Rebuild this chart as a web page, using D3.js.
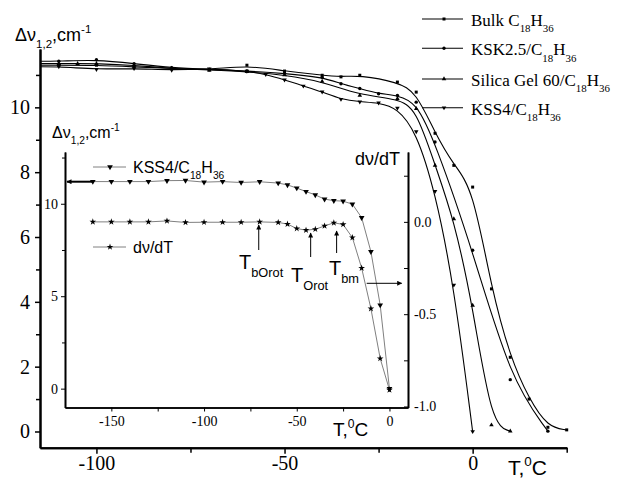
<!DOCTYPE html>
<html>
<head>
<meta charset="utf-8">
<script src="https://cdn.jsdelivr.net/npm/d3@7"></script>
<style>
body { margin: 0; background: #fff; }
</style>
</head>
<body>
<div id="chart"></div>
<script>
var width = 622, height = 479;

// main plot: temperature (C) and delta nu (cm-1)
var bulkT = [-120, -110, -100, -90, -80, -70, -60, -50, -40, -35, -30, -20, -15, -10, -5, 0, 5, 10, 15, 20, 25];
var bulkV = [11.3, 11.3, 11.3, 11.25, 11.2, 11.15, 11.3, 11.12, 10.99, 10.94, 10.99, 10.78, 10.47, 9.2, 8.21, 7.54, 4.40, 2.29, 1.0, 0.13, 0.05];
var kskT = [-120, -110, -100, -90, -80, -70, -60, -50, -40, -35, -30, -25, -20, -15, -10, 0, 10, 20];
var kskV = [11.42, 11.42, 11.47, 11.35, 11.22, 11.17, 11.12, 11.05, 10.93, 10.73, 10.58, 10.42, 10.37, 10.16, 8.93, 5.59, 1.6, 0.01];
var silT = [-120, -110, -105, -100, -90, -80, -70, -60, -50, -40, -30, -20, -15, -10, -5, 0, 5, 10];
var silV = [11.35, 11.35, 11.35, 11.35, 11.3, 11.2, 11.15, 11.1, 11.0, 10.8, 10.37, 10.27, 9.96, 8.21, 6.56, 3.89, 0.2, 0.01];

// KSS4 series (used in main plot and inset) and its derivative
var kssT = [-160, -150, -140, -130, -120, -110, -100, -90, -80, -70, -60, -55, -50, -45, -40, -35, -30, -25, -20, -15, -10, -5, 0];
var kssV = [11.2, 11.2, 11.2, 11.2, 11.25, 11.26, 11.17, 11.2, 11.15, 11.19, 11.12, 11.02, 10.85, 10.66, 10.48, 10.25, 10.17, 10.14, 9.98, 9.25, 7.41, 4.52, 0.0];
var dvdtV = [0.0, 0.0, 0.0, 0.0, 0.005, -0.003, -0.002, -0.002, -0.002, 0.0, -0.003, -0.012, -0.036, -0.045, -0.04, -0.022, -0.005, -0.014, -0.085, -0.25, -0.47, -0.74, -0.91];

var legendNames = [
    [["Bulk C", 0], ["18", 1], ["H", 0], ["36", 1]],
    [["KSK2.5/C", 0], ["18", 1], ["H", 0], ["36", 1]],
    [["Silica Gel 60/C", 0], ["18", 1], ["H", 0], ["36", 1]],
    [["KSS4/C", 0], ["18", 1], ["H", 0], ["36", 1]]
];
var mainTicksX = [-100, -50, 0];
var mainTicksY = [0, 2, 4, 6, 8, 10];
var insetTicksX = [-150, -100, -50, 0];
var insetTicksL = [0, 5, 10];
var insetTicksR = [0.0, -0.5, -1.0];

var svg = d3.select("#chart").append("svg")
    .attr("width", width)
    .attr("height", height);

var defs = svg.append("defs");
defs.append("marker")
    .attr("id", "head")
    .attr("viewBox", "0 0 10 10")
    .attr("refX", 9).attr("refY", 5)
    .attr("markerWidth", 7).attr("markerHeight", 5)
    .attr("markerUnits", "userSpaceOnUse")
    .attr("orient", "auto")
    .append("path").attr("d", "M0,0L10,5L0,10Z").attr("fill", "#000");
defs.append("clipPath").attr("id", "mainClip")
    .append("rect").attr("x", 40).attr("y", 0).attr("width", 530).attr("height", 450);

function richText(g, x, y, parts, size, family) {
    var t = g.append("text")
        .attr("x", x).attr("y", y)
        .attr("font-family", family)
        .attr("font-size", size)
        .attr("fill", "#000");
    var cur = 0;
    parts.forEach(function (p) {
        var off = p[1] == 1 ? size * 0.38 : (p[1] == 2 ? -size * 0.42 : 0);
        t.append("tspan")
            .attr("dy", off - cur)
            .attr("font-size", p[1] ? size * 0.64 : size)
            .text(p[0]);
        cur = off;
    });
    return t;
}

// ---------- main plot ----------
var xScale = d3.scaleLinear().domain([-115, 25]).range([40, 566.7]);
var yScale = d3.scaleLinear().domain([-0.5, 11.8]).range([447.7, 49]);

var gx = svg.append("g")
    .attr("transform", "translate(0," + 447.7 + ")")
    .call(d3.axisBottom(xScale).tickValues(mainTicksX).tickSize(6).tickSizeOuter(0).tickPadding(2)
        .tickFormat(d3.format("d")));
svg.append("g")
    .attr("transform", "translate(0," + 447.7 + ")")
    .call(d3.axisBottom(xScale).tickValues([-75, -25, 25]).tickSize(5).tickSizeOuter(0).tickFormat(""));
var gy = svg.append("g")
    .attr("transform", "translate(40,0)")
    .call(d3.axisLeft(yScale).tickValues(mainTicksY).tickSize(5).tickSizeOuter(0).tickPadding(5)
        .tickFormat(d3.format("d")));
svg.append("g")
    .attr("transform", "translate(40,0)")
    .call(d3.axisLeft(yScale).tickValues([1, 3, 5, 7, 9, 11]).tickSize(4).tickSizeOuter(0).tickFormat(""));

svg.selectAll(".domain").attr("stroke-width", 2);
svg.selectAll(".tick line").attr("stroke-width", 1.5);
[gx, gy].forEach(function (g) {
    g.selectAll("text")
        .attr("font-family", "Liberation Serif")
        .attr("font-size", 20)
        .attr("fill", "#000")
        .text(function (d) { return d < 0 ? "-" + Math.abs(d) : d; });
});

var mainSeries = [
    { t: bulkT, v: bulkV, sym: d3.symbolSquare },
    { t: kskT, v: kskV, sym: d3.symbolCircle },
    { t: silT, v: silV, sym: d3.symbolTriangle },
    { t: kssT, v: kssV, sym: d3.symbolTriangle, rot: 180 }
];

var mainLine = d3.line()
    .x(function (d) { return xScale(d[0]); })
    .y(function (d) { return yScale(d[1]); })
    .curve(d3.curveBasis);

var plotG = svg.append("g").attr("clip-path", "url(#mainClip)");
mainSeries.forEach(function (s) {
    var pts = s.t.map(function (t, i) { return [t, s.v[i]]; })
        .filter(function (d) { return d[0] >= -120; });
    plotG.append("path")
        .attr("d", mainLine(pts))
        .attr("fill", "none")
        .attr("stroke", "#000")
        .attr("stroke-width", 1.1);
    plotG.selectAll(null).data(pts).enter().append("path")
        .attr("d", d3.symbol().type(s.sym).size(9))
        .attr("transform", function (d) {
            return "translate(" + xScale(d[0]) + "," + yScale(d[1]) + ")" + (s.rot ? " rotate(180)" : "");
        })
        .attr("fill", "#000");
});

// main legend
var legY = [19, 48.3, 79, 107.7];
legendNames.forEach(function (name, i) {
    svg.append("line")
        .attr("x1", 422).attr("x2", 463)
        .attr("y1", legY[i]).attr("y2", legY[i])
        .attr("stroke", "#000").attr("stroke-width", 1.1);
    svg.append("path")
        .attr("d", d3.symbol().type(mainSeries[i].sym).size(9))
        .attr("transform", "translate(444," + legY[i] + ")" + (mainSeries[i].rot ? " rotate(180)" : ""))
        .attr("fill", "#000");
    richText(svg, 471, legY[i] + 7, name, 17, "Liberation Serif");
});

// main axis titles
richText(svg, 15, 41, [["\u0394\u03bd", 0], ["1,2", 1], [",cm", 0], ["-1", 2]], 18, "Liberation Sans");
richText(svg, 508, 475, [["T,", 0], ["0", 2], ["C", 0]], 21, "Liberation Sans");

// ---------- inset ----------
var xi = d3.scaleLinear().domain([-175, 10]).range([65, 408]);
var yi = d3.scaleLinear().domain([-1.02, 12.8]).range([407.5, 152]);
var yr = d3.scaleLinear().domain([-1.0055, 0.3785]).range([407.5, 152]);

var inset = svg.append("g");
var ix = inset.append("g")
    .attr("transform", "translate(0,407.5)")
    .call(d3.axisBottom(xi).tickValues(insetTicksX).tickSize(4).tickSizeOuter(0).tickPadding(5)
        .tickFormat(function (d) { return d < 0 ? "-" + Math.abs(d) : d; }));
inset.append("g")
    .attr("transform", "translate(0,407.5)")
    .call(d3.axisBottom(xi).tickValues([-125, -75, -25]).tickSize(4).tickSizeOuter(0).tickFormat(""));
var il = inset.append("g")
    .attr("transform", "translate(65,0)")
    .call(d3.axisLeft(yi).tickValues(insetTicksL).tickSize(4).tickSizeOuter(0).tickPadding(3));
inset.append("g")
    .attr("transform", "translate(65,0)")
    .call(d3.axisLeft(yi).tickValues([2.5, 7.5, 12.5]).tickSize(3).tickSizeOuter(0).tickFormat(""));
var ir = inset.append("g")
    .attr("transform", "translate(408,0)")
    .call(d3.axisRight(yr).tickValues(insetTicksR).tickSize(-4).tickSizeOuter(0).tickPadding(6)
        .tickFormat(function (d) { return (d < 0 ? "-" : "") + Math.abs(d).toFixed(1); }));
inset.append("g")
    .attr("transform", "translate(408,0)")
    .call(d3.axisRight(yr).tickValues([0.25, -0.25, -0.75]).tickSize(-4).tickSizeOuter(0).tickFormat(""));
inset.selectAll(".domain").attr("stroke-width", 1.6);
inset.selectAll(".tick line").attr("stroke-width", 1);
[ix, il, ir].forEach(function (g) {
    g.selectAll("text")
        .attr("font-family", "Liberation Serif")
        .attr("font-size", 14)
        .attr("fill", "#000");
});

var kssLine = d3.line()
    .x(function (d, i) { return xi(kssT[i]); })
    .y(function (d) { return yi(d); });
var dvdtLine = d3.line()
    .x(function (d, i) { return xi(kssT[i]); })
    .y(function (d) { return yr(d); });
inset.append("path").attr("d", kssLine(kssV))
    .attr("fill", "none").attr("stroke", "#808080").attr("stroke-width", 1);
inset.append("path").attr("d", dvdtLine(dvdtV))
    .attr("fill", "none").attr("stroke", "#808080").attr("stroke-width", 1);
inset.selectAll(null).data(kssV).enter().append("path")
    .attr("d", d3.symbol().type(d3.symbolTriangle).size(14))
    .attr("transform", function (d, i) { return "translate(" + xi(kssT[i]) + "," + yi(d) + ") rotate(180)"; })
    .attr("fill", "#000");
inset.selectAll(null).data(dvdtV).enter().append("path")
    .attr("d", d3.symbol().type(d3.symbolStar).size(14))
    .attr("transform", function (d, i) { return "translate(" + xi(kssT[i]) + "," + yr(d) + ")"; })
    .attr("fill", "#000");

// inset legend
[[167, d3.symbolTriangle, 180, [["KSS4/C", 0], ["18", 1], ["H", 0], ["36", 1]]],
 [247, d3.symbolStar, 0, [["d\u03bd/dT", 0]]]].forEach(function (r) {
    inset.append("line").attr("x1", 93).attr("x2", 126).attr("y1", r[0]).attr("y2", r[0])
        .attr("stroke", "#808080").attr("stroke-width", 1);
    inset.append("path").attr("d", d3.symbol().type(r[1]).size(14))
        .attr("transform", "translate(110," + r[0] + ") rotate(" + r[2] + ")")
        .attr("fill", "#000");
    richText(inset, 133, r[0] + 6, r[3], 16, "Liberation Sans");
});

// inset titles
richText(inset, 52, 138, [["\u0394\u03bd", 0], ["1,2", 1], [",cm", 0], ["-1", 2]], 16, "Liberation Sans");
richText(inset, 355, 165, [["d\u03bd/dT", 0]], 18, "Liberation Sans");
richText(inset, 333, 436, [["T,", 0], ["0", 2], ["C", 0]], 19, "Liberation Sans");

// annotations
richText(inset, 239, 269, [["T", 0], ["bOrot", 1]], 20, "Liberation Sans");
richText(inset, 291, 282, [["T", 0], ["Orot", 1]], 20, "Liberation Sans");
richText(inset, 329, 275, [["T", 0], ["bm", 1]], 20, "Liberation Sans");

var arrows = [
    [xi(-70.5), 250, xi(-70.5), 225, 1],
    [xi(-42.5), 257, xi(-42.5), 233, 1],
    [xi(-28.5), 253, xi(-28.5), 231, 1],
    [366.7, 283.3, 401.7, 283.3, 1],
    [92, 181.7, 67, 181.7, 2]
];
arrows.forEach(function (a) {
    inset.append("line")
        .attr("x1", a[0]).attr("y1", a[1]).attr("x2", a[2]).attr("y2", a[3])
        .attr("stroke", "#000").attr("stroke-width", a[4])
        .attr("marker-end", "url(#head)");
});
</script>
</body>
</html>
